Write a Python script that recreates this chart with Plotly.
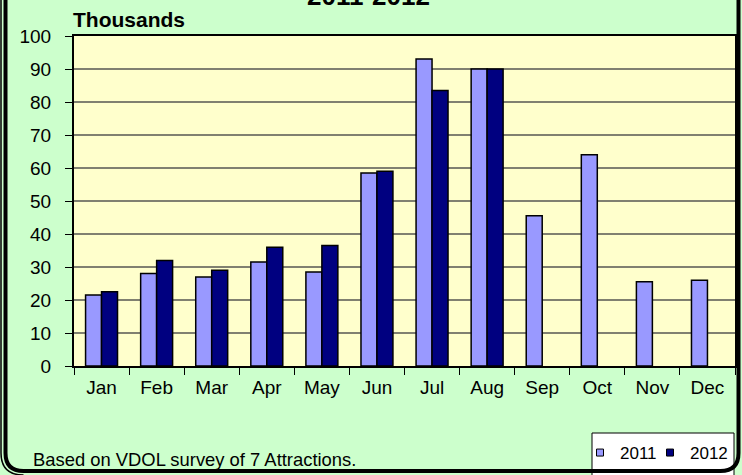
import plotly.graph_objects as go

months = ["Jan", "Feb", "Mar", "Apr", "May", "Jun", "Jul", "Aug", "Sep", "Oct", "Nov", "Dec"]
v2011 = [21.5, 28, 27, 31.5, 28.5, 58.5, 93, 90, 45.5, 64, 25.5, 26]
v2012 = [22.5, 32, 29, 36, 36.5, 59, 83.5, 90, None, None, None, None]
series_names = ["2011", "2012"]
series_colors = ["#9999FF", "#000080"]

W, H = 742, 475
L, R, T, B = 74, 7, 36, 109
PW, PH = W - L - R, H - T - B


def px(x):
    return (x - L) / PW


def py(y):
    return (H - B - y) / PH


FONT = "Arial, Liberation Sans, sans-serif"

fig = go.Figure()
legend_ids = ["legend", "legend2"]
for name, vals, col, lg in zip(series_names, [v2011, v2012], series_colors, legend_ids):
    fig.add_trace(go.Bar(x=months, y=vals, name=name, marker=dict(color=col, line=dict(color="black", width=1.5)),
                         showlegend=False))
    # legend proxy
    fig.add_trace(go.Scatter(x=[None], y=[None], mode="markers", name=name, legend=lg,
                             marker=dict(symbol="square", size=7, color=col, line=dict(color="black", width=1))))

# outer rounded border
r = 18
xl, xr, yb, yt = 5.5, 738.5, 471, -30
path = (f"M {px(xl)},{py(yt)} L {px(xl)},{py(yb - r)} Q {px(xl)},{py(yb)} {px(xl + r)},{py(yb)} "
        f"L {px(xr - r)},{py(yb)} Q {px(xr)},{py(yb)} {px(xr)},{py(yb - r)} L {px(xr)},{py(yt)}")
path2 = f"M {px(1)},{py(yt)} L {px(1)},{py(yb - r)} Q {px(1)},{py(yb + 4)} {px(xl + r)},{py(yb + 4)}"

shapes = [
    dict(type="rect", xref="paper", yref="paper", x0=px(592), x1=px(734), y0=py(433), y1=py(485),
         fillcolor="white", line=dict(color="black", width=1), layer="below"),
    dict(type="path", xref="paper", yref="paper", path=path, line=dict(color="black", width=4)),
    dict(type="path", xref="paper", yref="paper", path=path2, line=dict(color="black", width=1.5)),
]

annotations = [
    dict(text="<b>2011-2012</b>", xref="paper", yref="paper", x=px(368), y=py(13), xanchor="center",
         yanchor="bottom", showarrow=False, font=dict(size=26, color="black", family=FONT)),
    dict(text="<b>Thousands</b>", xref="paper", yref="paper", x=px(71), y=py(33), xanchor="left",
         yanchor="bottom", showarrow=False, font=dict(size=21, color="black", family=FONT)),
    dict(text="Based on VDOL survey of 7 Attractions.", xref="paper", yref="paper", x=px(31), y=py(472),
         xanchor="left", yanchor="bottom", showarrow=False, font=dict(size=18.4, color="black", family=FONT)),
]

leg_common = dict(orientation="h", yanchor="middle", bgcolor="rgba(0,0,0,0)", font=dict(size=17), itemwidth=30)

fig.update_layout(
    width=W, height=H,
    margin=dict(l=L, r=R, t=T, b=B, autoexpand=False),
    paper_bgcolor="#CCFFCC", plot_bgcolor="#FFFFCC",
    barmode="group", bargap=0.42, bargroupgap=0,
    font=dict(family=FONT, size=19, color="black"),
    showlegend=True,
    legend=dict(x=px(580), y=py(453), xanchor="left", **leg_common),
    legend2=dict(x=px(650), y=py(453), xanchor="left", **leg_common),
    shapes=shapes, annotations=annotations,
)
fig.update_xaxes(type="category", showline=True, linecolor="black", linewidth=2, mirror=True,
                 ticks="outside", ticklen=7, tickcolor="black", tickwidth=1, tickson="boundaries",
                 showgrid=False, ticklabelstandoff=3, fixedrange=True)
fig.update_yaxes(range=[0, 100], dtick=10, showline=True, linecolor="black", linewidth=2, mirror=True,
                 ticks="outside", ticklen=7, tickcolor="black", tickwidth=1,
                 gridcolor="#808070", gridwidth=1.5, zeroline=False, ticklabelstandoff=10, fixedrange=True)

fig.write_html("out.html", config={"displayModeBar": False},
               post_script="document.body.style.margin='0';document.body.style.overflow='hidden';")
